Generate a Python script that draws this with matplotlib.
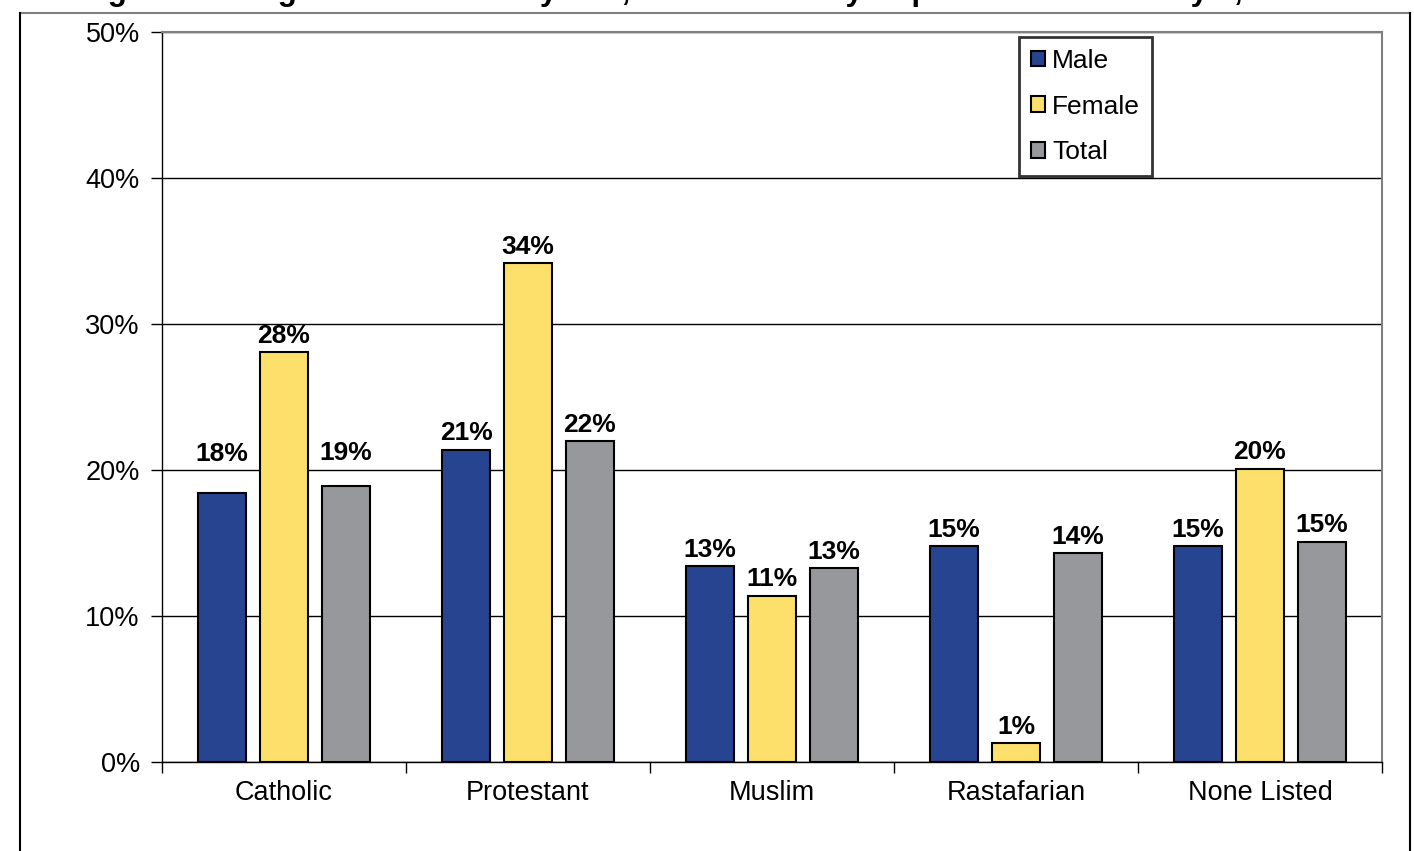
import numpy as np
import matplotlib.pyplot as plt
from matplotlib.lines import Line2D
from matplotlib.ticker import FixedLocator, PercentFormatter

plt.rcParams['font.family'] = ['Liberation Sans', 'DejaVu Sans']

## DATA
categories = ['Catholic', 'Protestant', 'Muslim', 'Rastafarian', 'None Listed']
male = [18.4, 21.4, 13.4, 14.8, 14.8]
female = [28.1, 34.2, 11.4, 1.3, 20.1]
total = [18.9, 22.0, 13.3, 14.3, 15.1]
series_names = ['Male', 'Female', 'Total']
title = 'Figure 6: Religious Affiliation by Sex, Under Custody Population on January 1, 2010'

## STYLE
colors = ['#26448F', '#FDE06B', '#97989C']
bar_w = 0.197
step = 0.254
# extra lift (points) for the two Catholic labels that sit higher in the original
label_lift = {(0, 0): 17, (2, 0): 12}

fig = plt.figure(figsize=(14.14, 8.51), dpi=100)
ax = fig.add_axes([162 / 1414, 1 - 762 / 851, 1220 / 1414, 730 / 851])

x = np.arange(len(categories))
for i, (vals, col, name) in enumerate(zip([male, female, total], colors, series_names)):
    xs = x + (i - 1) * step
    bars = ax.bar(xs, vals, width=bar_w, color=col, edgecolor='black', linewidth=1.5,
                  label=name, zorder=3)
    for j, (b, v) in enumerate(zip(bars, vals)):
        lift = 3 + label_lift.get((i, j), 0)
        ax.annotate('%d%%' % round(v), (b.get_x() + b.get_width() / 2, v),
                    xytext=(0, lift), textcoords='offset points',
                    ha='center', va='bottom', fontsize=19, fontweight='bold')

ax.set_xlim(-0.5, len(categories) - 0.5)
ax.set_ylim(0, 50)
ax.yaxis.set_major_locator(FixedLocator([0, 10, 20, 30, 40, 50]))
ax.yaxis.set_major_formatter(PercentFormatter(decimals=0))
ax.set_xticks(x)
ax.set_xticklabels(categories)
ax.set_xticks(np.arange(len(categories) + 1) - 0.5, minor=True)
ax.tick_params(axis='x', which='major', length=0, pad=13, labelsize=19.5)
ax.tick_params(axis='x', which='minor', length=8, direction='out', width=1)
ax.tick_params(axis='y', length=8, direction='out', width=1, labelsize=19.5, pad=8)
ax.grid(axis='y', color='black', linewidth=1, zorder=0)

for s in ['top', 'right']:
    ax.spines[s].set_color('#808080')
    ax.spines[s].set_linewidth(1.5)
ax.spines['left'].set_linewidth(1)
ax.spines['bottom'].set_linewidth(1)

leg = ax.legend(loc='upper left', bbox_to_anchor=(857 / 1220, 1 - 5 / 730),
                fontsize=19, frameon=True, fancybox=False, handlelength=0.55,
                handleheight=0.55, handletextpad=0.25, labelspacing=0.82,
                borderpad=0.45, borderaxespad=0)
leg.get_frame().set_edgecolor('black')
leg.get_frame().set_linewidth(2)

# outer chart border (top edge cut by the page)
fig.add_artist(Line2D([20 / 1414, 1410 / 1414], [1 - 13 / 851, 1 - 13 / 851],
                      transform=fig.transFigure, color='#808080', linewidth=1.5))
fig.add_artist(Line2D([20 / 1414, 20 / 1414], [0, 1 - 13 / 851],
                      transform=fig.transFigure, color='black', linewidth=1.5))
fig.add_artist(Line2D([1410 / 1414, 1410 / 1414], [0, 1 - 13 / 851],
                      transform=fig.transFigure, color='black', linewidth=1.5))

# title, mostly cut off above the image
fig.text(700 / 1414, 1.0, title, ha='center', va='baseline',
         fontsize=22.5, fontweight='bold')

fig.savefig('out.png', dpi=100)
